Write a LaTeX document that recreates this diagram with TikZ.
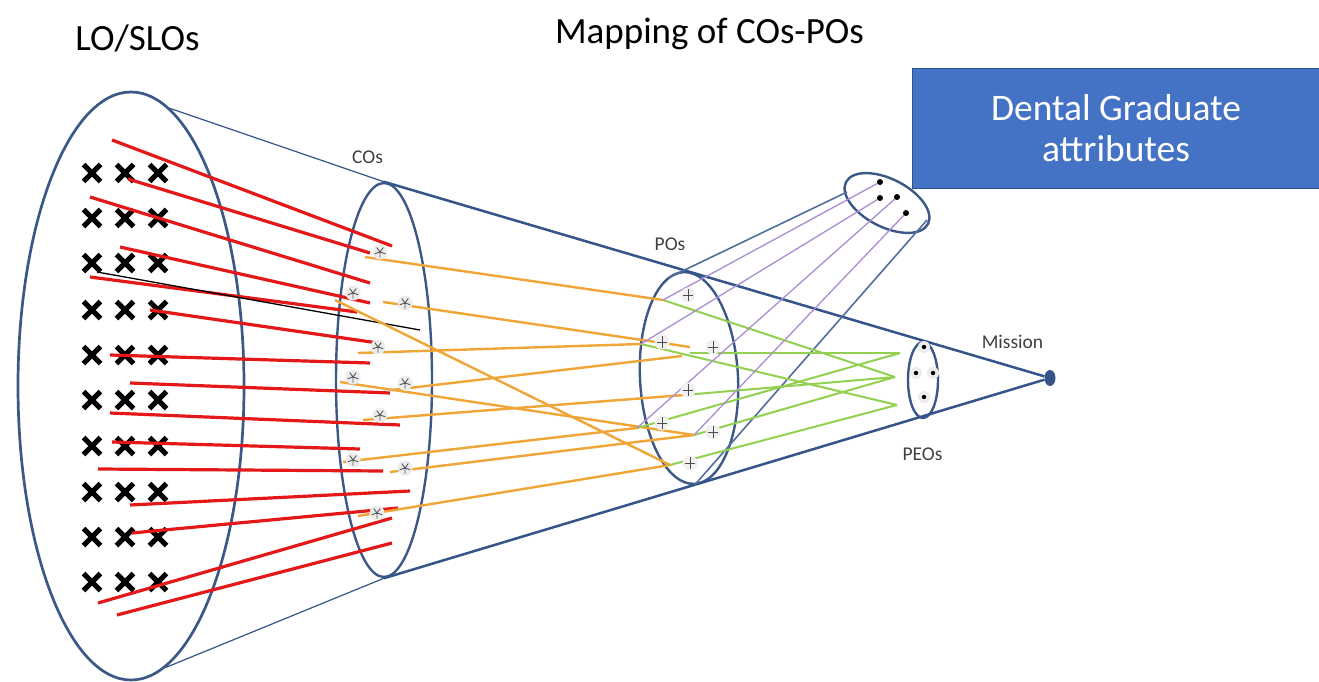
\documentclass[tikz,border=0pt]{standalone}
\usepackage{fontspec}
\setmainfont{Carlito}
\usetikzlibrary{shapes.geometric}

\definecolor{coneblue}{RGB}{52,84,138}
\definecolor{ringblue}{RGB}{60,88,135}
\definecolor{linkred}{RGB}{228,24,24}
\definecolor{linkorange}{RGB}{240,165,55}
\definecolor{linkgreen}{RGB}{146,208,80}
\definecolor{linkpurple}{RGB}{172,140,212}
\definecolor{boxblue}{RGB}{68,114,196}
\definecolor{boxedge}{RGB}{47,82,143}
\definecolor{labelgray}{RGB}{64,64,64}

\tikzset{
  ring/.style={ellipse, draw=ringblue, line width=2.4pt, inner sep=0pt},
  conethin/.style={coneblue, line width=1.2pt},
  conethick/.style={coneblue, line width=2.5pt},
  attrcone/.style={coneblue!85!white, line width=1.6pt},
  redlink/.style={linkred, line width=3.2pt},
  orangelink/.style={linkorange, line width=2.4pt},
  greenlink/.style={linkgreen, line width=2pt},
  purplelink/.style={linkpurple, line width=1.3pt},
  headline/.style={font=\fontsize{37}{44}\selectfont, text=black, anchor=base},
  tag/.style={font=\fontsize{19.5}{23}\selectfont, text=labelgray, anchor=base},
  xmark/.pic={\draw[line width=5pt] (-8.5,-8.5) -- (8.5,8.5) (-8.5,8.5) -- (8.5,-8.5);},
  costar/.pic={\fill[gray!15] (0,0) circle (7.5);
    \draw[gray!65!black, line width=0.9pt] foreach \a in {90,162,234,306,18} {(0,0) -- (\a:5.5)};},
  poplus/.pic={\fill[gray!12] (0,0) circle (7.5);
    \draw[gray!60!black, line width=1pt] (-5,0) -- (5,0) (0,-6) -- (0,6);},
  peodot/.pic={\fill[gray!15] (0,0) circle (6); \fill[black] (0,0) circle (2.2);},
}

\begin{document}
\begin{tikzpicture}[x=1pt,y=-1pt]
\useasboundingbox (0,0) rectangle (1319,682);
\fill[white] (0,0) rectangle (1319,682);

% headings
\node[headline] (hlo) at (137.5,51) {LO/SLOs};
\node[headline] (hmap) at (709.5,44) {Mapping of COs-POs};

% learning outcomes: ten rows of three crosses
\foreach \y in {173,218,263,310,355,400,446,492,537,582}
  \foreach \x in {92,125,158}
    \pic at (\x,\y) {xmark};

% the rings of the funnel
\node[ring, line width=2.7pt, minimum width=226pt, minimum height=588pt] (lo) at (131,386) {};
\node[ring, minimum width=96pt, minimum height=394pt] (co) at (384,380) {};
\node[ring, rotate=3, minimum width=98pt, minimum height=212pt] (po) at (689,378) {};
\node[ring, minimum width=30pt, minimum height=76pt] (peo) at (923,380) {};
\node[ring, rotate=-27, minimum width=92pt, minimum height=48pt] (ga) at (887,203) {};
\node[ellipse, fill=coneblue, minimum width=11pt, minimum height=16pt, inner sep=0pt] (mission) at (1050,378) {};

% funnel outline
\draw[conethin] (lo.82) -- (co.north);
\draw[conethin] (lo.-83) -- (co.south);
\draw[conethick] (co.north) -- (mission);
\draw[conethick] (co.south) -- (mission);

% side funnel towards the graduate attributes
\coordinate (gaUp) at (847,192);
\coordinate (gaLow) at (927,220);
\draw[attrcone] (gaUp) -- (668,278);
\draw[attrcone] (gaLow) -- (po.south);

% learning outcomes mapped to COs
\foreach \a/\b/\c/\d in {
  112/140/392/246, 128/179/370/253, 90/197/370/283, 120/247/370/303,
  90/277/357/312, 150/310/378/343, 110/355/370/363, 130/383/390/393,
  110/413/400/425, 112/442/360/449, 98/469/383/471, 130/505/410/491,
  132/533/398/508, 98/603/392/518, 117/615/392/543}
  \draw[redlink] (\a,\b) -- (\c,\d);
\draw[black, line width=1.3pt] (97,272) -- (420,330);

% points inside the PO ring
\coordinate (pA) at (663,300);
\coordinate (pB) at (641,344);
\coordinate (pC) at (690,353);
\coordinate (pD) at (684,395);
\coordinate (pE) at (637,428);
\coordinate (pF) at (694,435);
\coordinate (pG) at (670,465);
\coordinate (pH) at (690,347);
\coordinate (pJ) at (682,356);

% COs mapped to POs
\draw[orangelink] (365,257) -- (pA);
\draw[orangelink] (383,302) -- (pH);
\draw[orangelink] (358,353) -- (pB);
\draw[orangelink] (340,382) -- (pF);
\draw[orangelink] (392,390) -- (pJ);
\draw[orangelink] (363,420) -- (pD);
\draw[orangelink] (343,462) -- (pE);
\draw[orangelink] (390,472) -- (pF);
\draw[orangelink] (358,516) -- (pG);
\draw[orangelink] (335,300) -- (pG);

% POs mapped to PEOs
\coordinate (t1) at (900,353);
\coordinate (t2) at (895,377);
\coordinate (t3) at (897,405);
\draw[greenlink] (pA) -- (t2);
\draw[greenlink] (pB) -- (t3);
\draw[greenlink] (pC) -- (t1);
\draw[greenlink] (pD) -- (t2);
\draw[greenlink] (pE) -- (t1);
\draw[greenlink] (pF) -- (t2);
\draw[greenlink] (pG) -- (t3);

% graduate attribute points
\coordinate (ga1) at (880,182);
\coordinate (ga2) at (880,198);
\coordinate (ga3) at (897,197);
\coordinate (ga4) at (906,213);
\draw[purplelink] (ga1) -- (pA);
\draw[purplelink] (ga2) -- (pB);
\draw[purplelink] (ga3) -- (pE);
\draw[purplelink] (ga4) -- (pF);
\foreach \g in {ga1,ga2,ga3,ga4}
  \fill[black] (\g) circle (3);

% CO markers
\foreach \x/\y in {380/252, 353/293, 405/303, 378/347, 353/377,
                   405/383, 380/415, 353/460, 405/468, 377/513}
  \pic at (\x,\y) {costar};

% PO markers
\foreach \x/\y in {688/295, 662/342, 713/347, 688/390, 662/423, 713/432, 690/463}
  \pic at (\x,\y) {poplus};

% PEO markers
\foreach \x/\y in {924/347, 916/373, 933/373, 924/397}
  \pic at (\x,\y) {peodot};

% level labels
\node[tag] (lco) at (367.5,163) {COs};
\node[tag] (lpo) at (670,250) {POs};
\node[tag] (lmission) at (1012.5,348) {Mission};
\node[tag] (lpeo) at (922.5,460) {PEOs};

% graduate attributes banner
\node[draw=boxedge, line width=1pt, fill=boxblue, text=white, anchor=north west,
      minimum width=407pt, minimum height=120pt, inner sep=0pt, align=center,
      font=\fontsize{37.5}{41}\selectfont] (attr) at (912,68) {Dental Graduate\\attributes};
\end{tikzpicture}
\end{document}
